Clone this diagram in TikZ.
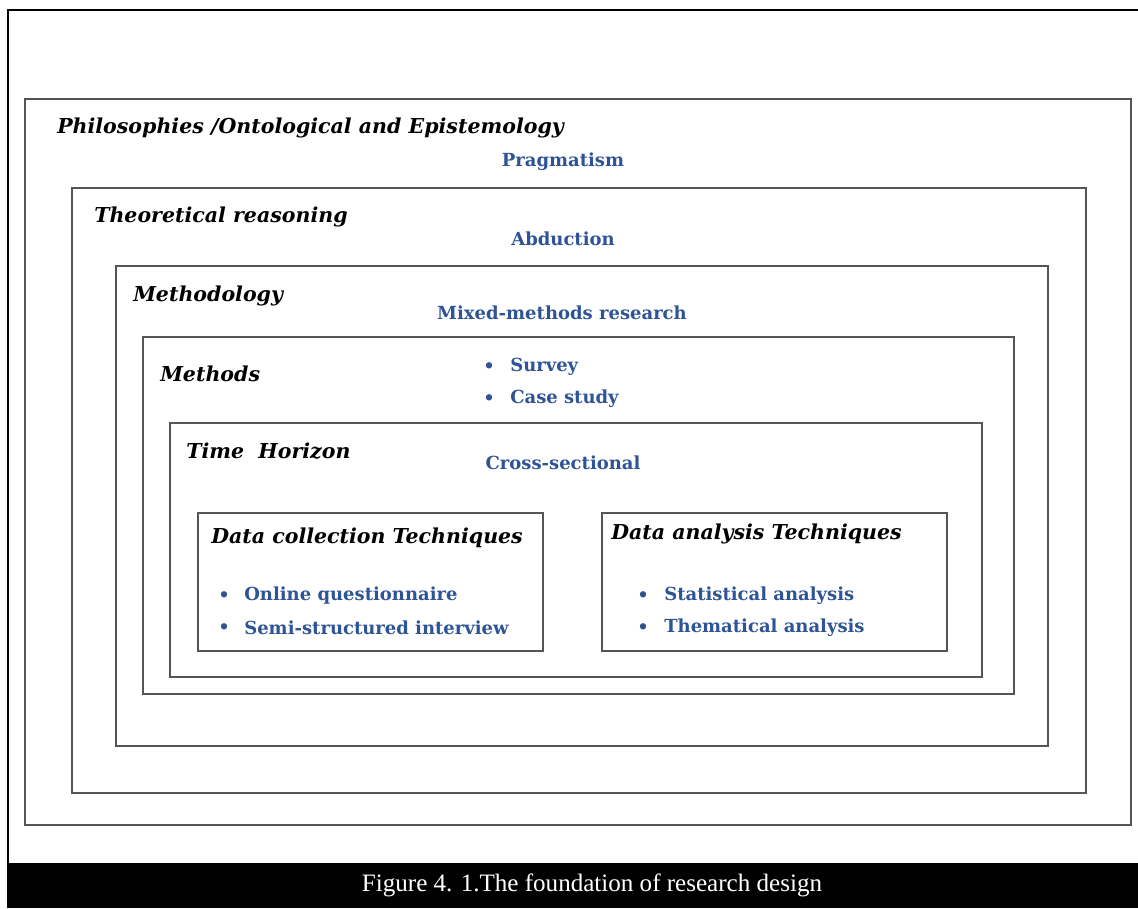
\documentclass[tikz,border=0pt]{standalone}
\usepackage{fontspec}
\setmainfont{DejaVu Serif}
\newfontfamily\capfont{Liberation Serif}
\definecolor{accent}{HTML}{2F5496}
\definecolor{boxgray}{HTML}{555555}
\begin{document}
\begin{tikzpicture}[x=0.75pt,y=-0.75pt,
  layerbox/.style={draw=boxgray, line width=0.9pt},
  head/.style={anchor=west, inner sep=0pt, yshift=-1.5pt, font=\bfseries\itshape\fontsize{15.4}{18}\selectfont},
  item/.style={inner sep=0pt, yshift=-1.5pt, text=accent, font=\bfseries\fontsize{13.5}{16}\selectfont},
  listitem/.style={item, anchor=west},
  dot/.style={item, anchor=center},
]
\useasboundingbox (0,0) rectangle (1138,908);

% outer frame and caption band
\draw[line width=1.5pt] (8,863) -- (8,10) -- (1140,10);
\fill[black] (7,863) rectangle (1138,908);
\node[text=white, font=\capfont\fontsize{18.8}{22}\selectfont, inner sep=0pt] (caption) at (592,885)
  {Figure 4. 1.The foundation of research design};

% nested layers of the research design
\draw[layerbox] (25,99) rectangle (1131,825);
\draw[layerbox] (72,188) rectangle (1086,793);
\draw[layerbox] (116,266) rectangle (1048,746);
\draw[layerbox] (143,337) rectangle (1014,694);
\draw[layerbox] (170,423) rectangle (982,677);
\draw[layerbox] (198,513) rectangle (543,651);
\draw[layerbox] (602,513) rectangle (947,651);

% layer headings
\node[head] (philo) at (57,126) {Philosophies /Ontological and Epistemology};
\node[head] (theory) at (94,215) {Theoretical reasoning};
\node[head] (methodology) at (133,294) {Methodology};
\node[head] (methods) at (160,372) {Methods};
\node[head] (time) at (186,449) {Time\ \ Horizon};
\node[head] (collect) at (211,536) {Data collection Techniques};
\node[head] (analysis) at (611,532) {Data analysis Techniques};

% choices made in each layer
\node[item] (pragmatism) at (563,160) {Pragmatism};
\node[item] (abduction) at (563,237) {Abduction};
\node[item] (mixed) at (562,311) {Mixed-methods research};
\node[item] (cross) at (563,461) {Cross-sectional};

\node[dot] (b1) at (489,366) {•};
\node[listitem] (survey) at (510,365) {Survey};
\node[dot] (b2) at (489,398) {•};
\node[listitem] (case) at (510,397) {Case study};

\node[dot] (b3) at (224,595) {•};
\node[listitem] (online) at (244,594) {Online questionnaire};
\node[dot] (b4) at (224,627) {•};
\node[listitem] (semi) at (244,626) {Semi-structured interview};

\node[dot] (b5) at (643,595) {•};
\node[listitem] (stat) at (664,594) {Statistical analysis};
\node[dot] (b6) at (643,627) {•};
\node[listitem] (them) at (664,626) {Thematical analysis};
\end{tikzpicture}
\end{document}
